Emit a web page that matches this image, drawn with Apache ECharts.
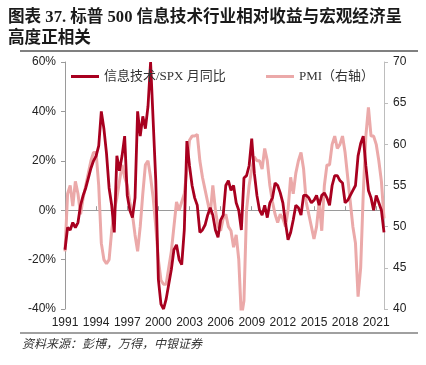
<!DOCTYPE html>
<html>
<head>
<meta charset="utf-8">
<script src="https://cdn.jsdelivr.net/npm/echarts@6/dist/echarts.min.js"></script>
<style>
  html, body { margin: 0; padding: 0; background: #fff; }
  #chart { width: 426px; height: 365px; }
</style>
</head>
<body>
<div id="chart"></div>
<script>
// quarterly points, 1991Q1 .. 2021Q4
const years = [1991, 1992, 1993, 1994, 1995, 1996, 1997, 1998, 1999, 2000, 2001,
  2002, 2003, 2004, 2005, 2006, 2007, 2008, 2009, 2010, 2011, 2012, 2013, 2014,
  2015, 2016, 2017, 2018, 2019, 2020, 2021];
const quarterMonths = ['03', '06', '09', '12'];

// 信息技术/SPX 月同比 (%)
const techRel = [
  -16, -7, -8, -5,
  -7, -5, 2, 6,
  9, 13, 17, 20,
  22, 26, 40, 33,
  23, 9, 2, -9,
  22, 16, 22, 30,
  6, 0, -3, 5,
  40, 30, 38, 33,
  42, 60, 36, 12,
  -28, -38, -40, -36,
  -30, -24, -16, -14,
  -20, -22, -8, 28,
  18, 10, 5, 2,
  -9, -8, -6, -2,
  1, -2, -8, -11,
  -4, -2, 10, 12,
  8, 10, 3, 0,
  -8, 13, 14, 18,
  29, 15, 6, 0,
  -2, 2, -3, 3,
  5, 11, 10, 7,
  3, -5, -12, -9,
  -4, 2, 1, -2,
  6, 6, 5, 3,
  4, 6, 2, 6,
  7, 5, 2, 10,
  14, 14, 12, 11,
  3, 4, 6, 8,
  10, 22, 27, 30,
  18, 8, 5, 0,
  6, 3, 0, -9
];

// PMI (右轴)
const pmi = [
  47, 54, 55, 52.5,
  55.5, 54, 51.5, 53.5,
  55, 56.5, 58, 59,
  59, 55, 48, 46,
  45.5, 46, 49.5, 52,
  53.5, 55.5, 57.5, 56,
  55, 53, 51.5, 49,
  47, 50, 54, 57.5,
  58, 56, 53.5, 50,
  46, 43.5, 43, 43,
  45, 47, 50, 53,
  52, 53, 54, 57,
  60.5, 61, 61, 61.2,
  58, 56, 54.5, 53,
  51.5, 55, 52, 50,
  49.5, 51, 51.5, 50,
  49.5, 47.5, 49, 46,
  39, 41, 52, 55,
  57, 58.5, 58, 58,
  57, 59.5, 58, 55,
  53, 51.5, 50.5, 51.5,
  51, 50, 52, 56,
  54, 56.5, 58, 59,
  57, 53, 51.5, 50,
  48.5, 50, 53, 49.5,
  55, 57.5, 57.5, 60,
  61, 59.5, 60, 61,
  59, 56, 53, 50,
  48, 41.5, 45, 54,
  61, 64.5, 61, 61,
  60, 58, 55.5, 51
];

const quarters = [];
years.forEach((y) => quarterMonths.forEach((m) => quarters.push(y + '-' + m)));

const chart = echarts.init(document.getElementById('chart'));

const latin = '"Liberation Sans", Arial, sans-serif';
const serif = '"Liberation Serif", "Noto Sans CJK SC", serif';

chart.setOption({
  animation: false,
  title: {
    text: '图表 37. 标普 500 信息技术行业相对收益与宏观经济呈\n高度正相关',
    left: 8,
    top: 7,
    padding: 0,
    textStyle: {
      fontFamily: serif,
      fontSize: 16.6,
      fontWeight: 'bold',
      color: '#1a1a1a',
      lineHeight: 21,
    },
  },
  legend: [
    {
      data: ['信息技术/SPX 月同比'],
      left: 66,
      top: 65,
      icon: 'rect',
      itemWidth: 28,
      itemHeight: 3,
      textStyle: { fontFamily: serif, fontSize: 13, color: '#333' },
    },
    {
      data: ['PMI（右轴）'],
      left: 261,
      top: 65,
      icon: 'rect',
      itemWidth: 28,
      itemHeight: 3,
      textStyle: { fontFamily: serif, fontSize: 13, color: '#333' },
    },
  ],
  grid: { left: 65, right: 42, top: 62, bottom: 56 },
  xAxis: [
    {
      type: 'category',
      data: quarters,
      boundaryGap: false,
      position: 'bottom',
      axisLine: { show: false, onZero: false },
      axisTick: { show: false },
      axisLabel: {
        interval: 11,
        margin: 8,
        color: '#222',
        fontFamily: latin,
        fontSize: 12,
        formatter: (v) => v.slice(0, 4),
      },
    },
    {
      type: 'category',
      data: quarters,
      boundaryGap: false,
      axisLine: { show: true, onZero: true, onZeroAxisIndex: 0, lineStyle: { color: '#9a9a9a', width: 1 } },
      axisTick: { show: true, interval: 11, length: 4, lineStyle: { color: '#9a9a9a' } },
      axisLabel: { show: false },
    },
  ],
  yAxis: [
    {
      type: 'value',
      min: -40,
      max: 60,
      interval: 20,
      splitLine: { show: false },
      axisLine: { show: true, lineStyle: { color: '#9a9a9a' } },
      axisTick: { show: true, length: 4, lineStyle: { color: '#9a9a9a' } },
      axisLabel: { color: '#222', fontFamily: latin, fontSize: 12, margin: 9, formatter: '{value}%' },
    },
    {
      type: 'value',
      min: 40,
      max: 70,
      interval: 5,
      position: 'right',
      splitLine: { show: false },
      axisLine: { show: true, lineStyle: { color: '#bdbdbd' } },
      axisTick: { show: true, length: 4, lineStyle: { color: '#bdbdbd' } },
      axisLabel: { color: '#222', fontFamily: latin, fontSize: 12, margin: 9 },
    },
  ],
  series: [
    {
      name: '信息技术/SPX 月同比',
      type: 'line',
      data: techRel,
      xAxisIndex: 0,
      yAxisIndex: 0,
      symbol: 'none',
      z: 3,
      color: '#a8001f',
      lineStyle: { color: '#a8001f', width: 2.8 },
    },
    {
      name: 'PMI（右轴）',
      type: 'line',
      data: pmi,
      xAxisIndex: 0,
      yAxisIndex: 1,
      symbol: 'none',
      z: 2,
      color: '#eba9a9',
      lineStyle: { color: '#eba9a9', width: 3 },
    },
  ],
  graphic: [
    {
      type: 'line',
      shape: { x1: 20, y1: 51, x2: 418, y2: 51 },
      style: { stroke: '#808080', lineWidth: 2 },
    },
    {
      type: 'line',
      shape: { x1: 20, y1: 333, x2: 418, y2: 333 },
      style: { stroke: '#808080', lineWidth: 1.5 },
    },
    {
      type: 'text',
      left: 22,
      top: 337,
      style: {
        text: '资料来源：彭博，万得，中银证券',
        font: 'italic 12px "Noto Sans CJK SC", sans-serif',
        fill: '#333',
      },
    },
  ],
});
</script>
</body>
</html>
